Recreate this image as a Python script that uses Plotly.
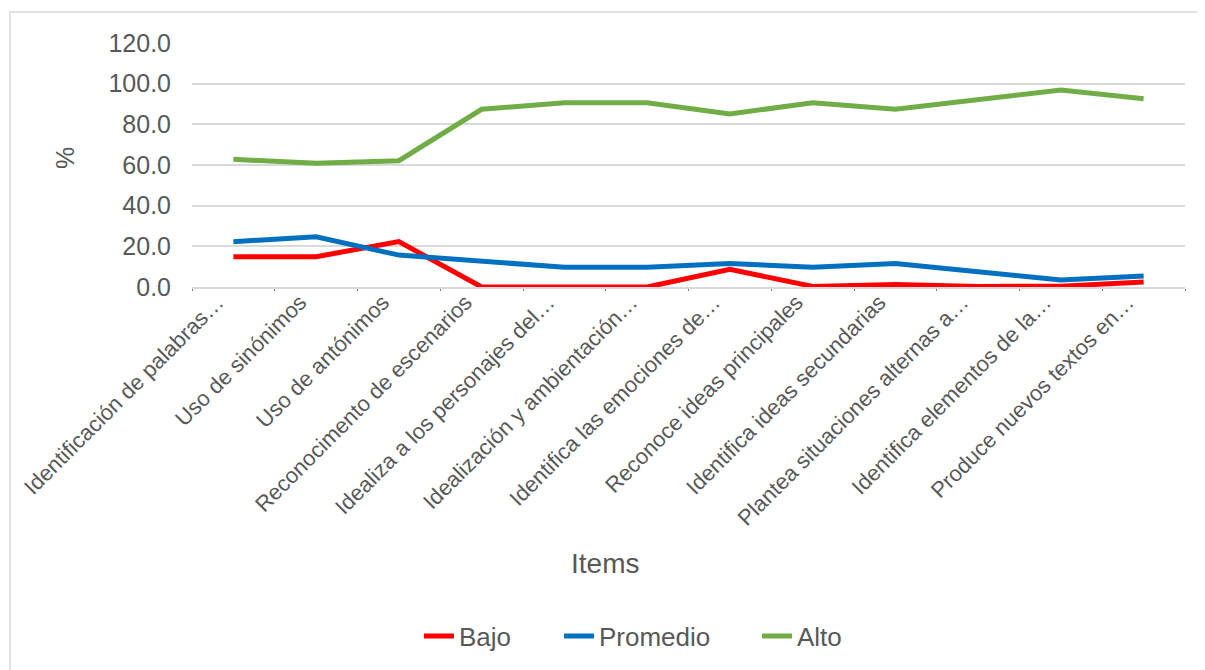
import plotly.graph_objects as go

items = [
    "Identificación de palabras…",
    "Uso de sinónimos",
    "Uso de antónimos",
    "Reconocimento de escenarios",
    "Idealiza a los personajes del…",
    "Idealización y ambientación…",
    "Identifica las emociones de…",
    "Reconoce ideas principales",
    "Identifica ideas secundarias",
    "Plantea situaciones alternas a…",
    "Identifica elementos de la…",
    "Produce nuevos textos en…",
]
bajo = [14.9, 14.9, 22.3, 0.0, 0.0, 0.0, 8.7, 0.3, 1.2, 0.3, 0.4, 2.5]
promedio = [22.3, 24.7, 15.7, 12.9, 9.7, 9.7, 11.6, 9.7, 11.6, 7.5, 3.4, 5.4]
alto = [62.8, 60.8, 62.1, 87.4, 90.6, 90.6, 85.1, 90.6, 87.4, 92.4, 96.9, 92.6]
y_ticks = [0, 20, 40, 60, 80, 100, 120]

series = [("Bajo", bajo, "#FF0000", "legend"),
          ("Promedio", promedio, "#0070C0", "legend2"),
          ("Alto", alto, "#70AD47", "legend3")]

fig = go.Figure()
for name, vals, col, lg in series:
    fig.add_trace(go.Scatter(x=items, y=vals, name=name, mode="lines",
                             line=dict(color=col, width=5), legend=lg))

font_fam = "Liberation Sans, Arial, sans-serif"
W, H = 1205, 670
OFF = 8  # page offset of the figure in the screenshot


def leg(text_left_px):
    return dict(orientation="h", xref="container", yref="container",
                x=(text_left_px - OFF - 40) / W, xanchor="left",
                y=1 - (636 - OFF) / H, yanchor="middle",
                font=dict(size=26, color="#595959"), bgcolor="rgba(0,0,0,0)")


fig.update_layout(
    width=W, height=H,
    margin=dict(l=184, r=28, t=35, b=391, autoexpand=False),
    paper_bgcolor="white", plot_bgcolor="white",
    font=dict(family=font_fam, color="#595959"),
    showlegend=True,
    legend=leg(459),
    legend2=leg(599),
    legend3=leg(797),
    xaxis=dict(type="category", tickangle=-45, tickfont=dict(size=22, color="#595959"),
               showgrid=False, showline=True, linecolor="#D9D9D9", linewidth=1.5,
               ticks="outside", tickson="boundaries", ticklen=2, tickcolor="#7F7F7F",
               ticklabelshift=-16, ticklabelstandoff=-8, automargin=False,
               range=[-0.5, 11.5]),
    yaxis=dict(range=[0, 120], tickvals=y_ticks, tickformat=".1f",
               tickfont=dict(size=25, color="#595959"), showgrid=True,
               gridcolor="#D9D9D9", gridwidth=1.5, zeroline=False, showline=False,
               ticks="", ticklabelstandoff=20, automargin=False),
    annotations=[
        dict(text="Items", xref="paper", yref="paper", x=(605 - 192) / 993, y=(287 - 563) / 244,
             showarrow=False, font=dict(size=28, color="#595959"), xanchor="center", yanchor="middle"),
        dict(text="%", xref="paper", yref="paper", x=(65 - 192) / 993, y=(287 - 158) / 244,
             showarrow=False, textangle=-90, font=dict(size=25, color="#595959"),
             xanchor="center", yanchor="middle"),
    ],
    shapes=[dict(type="rect", xref="paper", yref="paper",
                 x0=(10 - 192) / 993, x1=(1215 - 192) / 993, y0=(287 - 680) / 244, y1=(287 - 12) / 244,
                 line=dict(color="#D9D9D9", width=1.5), layer="below")],
)
fig.write_html("out.html")
